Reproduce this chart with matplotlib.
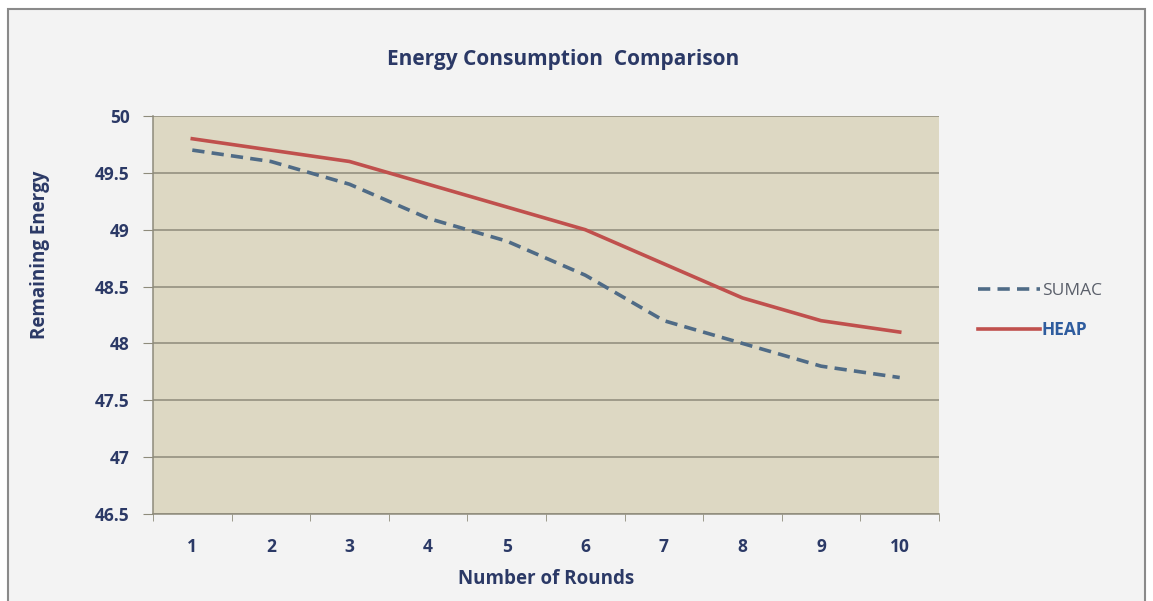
import matplotlib
matplotlib.use('Agg')
import matplotlib.pyplot as plt
from matplotlib.patches import Rectangle

# data
rounds = [1, 2, 3, 4, 5, 6, 7, 8, 9, 10]
sumac = [49.7, 49.6, 49.4, 49.1, 48.9, 48.6, 48.2, 48.0, 47.8, 47.7]
heap = [49.8, 49.7, 49.6, 49.4, 49.2, 49.0, 48.7, 48.4, 48.2, 48.1]
y_ticks = [46.5, 47, 47.5, 48, 48.5, 49, 49.5, 50]

navy = '#2b3966'
plt.rcParams['font.family'] = ['Open Sans', 'DejaVu Sans']

fig = plt.figure(figsize=(11.53, 6.01), dpi=100)
fig.patch.set_facecolor('white')

# outer chart border, kept behind the axes
fig.patches.append(Rectangle((8 / 1153, -0.05), 1137 / 1153, 1.05 - 9 / 601,
                             transform=fig.transFigure, facecolor='#f3f3f3',
                             edgecolor='#8a8a8a', linewidth=1.5, zorder=-10))

ax = fig.add_axes([153 / 1153, 87 / 601, 786 / 1153, 398 / 601])
ax.set_zorder(1)
ax.set_facecolor('#ddd8c3')

ax.plot(rounds, sumac, color='#4f6b86', linewidth=2.6, linestyle=(0, (3.4, 2.0)),
        label='SUMAC', zorder=3)
ax.plot(rounds, heap, color='#c0504d', linewidth=2.6, label='HEAP', zorder=3)

ax.set_xlim(0.5, 10.5)
ax.set_ylim(46.5, 50)
ax.set_yticks(y_ticks)
ax.set_yticklabels(['46.5', '47', '47.5', '48', '48.5', '49', '49.5', '50'])
ax.set_xticks(rounds)
ax.set_xticks([r + 0.5 for r in [0] + rounds], minor=True)

ax.grid(axis='y', color='#8e8b7b', linewidth=1.1)
ax.set_axisbelow(True)
for s in ['top', 'right']:
    ax.spines[s].set_visible(False)
for s in ['left', 'bottom']:
    ax.spines[s].set_color('#8e8b7b')
    ax.spines[s].set_linewidth(1.1)

ax.tick_params(axis='x', which='major', length=0, pad=17, labelsize=12.5,
               labelcolor=navy)
ax.tick_params(axis='x', which='minor', length=5, color='#8e8b7b', direction='out')
ax.tick_params(axis='y', length=7, color='#8e8b7b', pad=10, labelsize=12.5,
               labelcolor=navy)
for t in ax.get_xticklabels() + ax.get_yticklabels():
    t.set_fontweight('bold')

ax.set_xlabel('Number of Rounds', fontsize=13.5, fontweight='bold', color=navy,
              labelpad=10)
ax.set_ylabel('Remaining Energy', fontsize=13.5, fontweight='bold', color=navy)
ax.yaxis.set_label_coords(-0.131, 0.65)
fig.text(563 / 1153, 1 - 59 / 601, 'Energy Consumption  Comparison', ha='center',
         va='center', fontsize=15, fontweight='bold', color=navy)

leg = ax.legend(loc='center left', bbox_to_anchor=(962 / 1153, 1 - 311 / 601),
                bbox_transform=fig.transFigure, frameon=False, fontsize=12.5,
                handlelength=3.6, handletextpad=0.1, labelspacing=1.3)
leg.get_texts()[0].set_color('#5a5f6a')
leg.get_texts()[1].set_color('#2e5c9e')
leg.get_texts()[1].set_fontweight('bold')

fig.savefig('out.png', dpi=100)
